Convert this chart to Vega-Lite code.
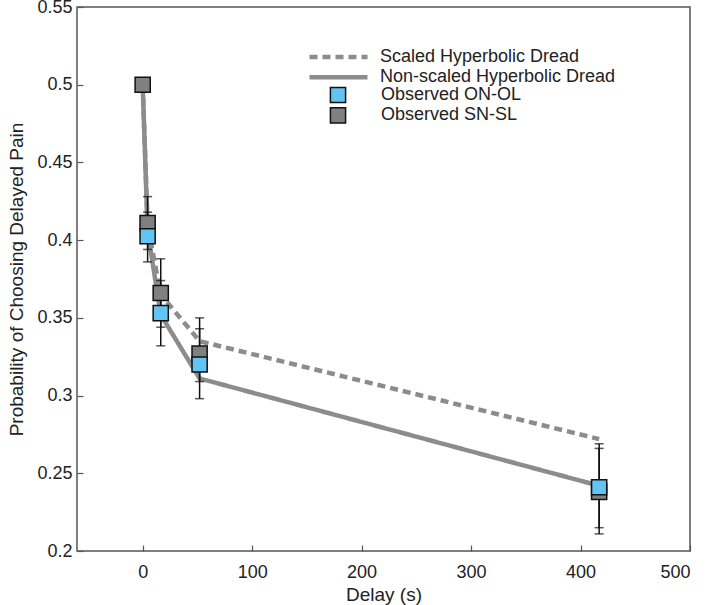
{
  "$schema": "https://vega.github.io/schema/vega-lite/v6.json",
  "width": 613,
  "height": 544,
  "autosize": {"type": "none"},
  "padding": {"left": 77, "top": 7, "right": 19, "bottom": 54},
  "background": "white",
  "config": {
    "view": {"stroke": "#555", "strokeWidth": 1.5},
    "axis": {
      "labelFont": "Liberation Sans", "titleFont": "Liberation Sans",
      "labelFontSize": 18, "titleFontSize": 19, "labelColor": "#222", "titleColor": "#222",
      "titleFontWeight": "normal", "grid": false, "domain": false,
      "tickColor": "#555", "tickWidth": 1.2
    },
    "legend": {
      "labelFont": "Liberation Sans", "labelFontSize": 18, "labelColor": "#222", "labelLimit": 0, "padding": 0
    }
  },
  "datasets": {
    "model": [
      {"delay": 0, "prob": 0.5, "series": "Scaled Hyperbolic Dread"},
      {"delay": 4.5, "prob": 0.41, "series": "Scaled Hyperbolic Dread"},
      {"delay": 16.5, "prob": 0.365, "series": "Scaled Hyperbolic Dread"},
      {"delay": 52, "prob": 0.335, "series": "Scaled Hyperbolic Dread"},
      {"delay": 417, "prob": 0.272, "series": "Scaled Hyperbolic Dread"},
      {"delay": 0, "prob": 0.5, "series": "Non-scaled Hyperbolic Dread"},
      {"delay": 4.5, "prob": 0.406, "series": "Non-scaled Hyperbolic Dread"},
      {"delay": 16.5, "prob": 0.352, "series": "Non-scaled Hyperbolic Dread"},
      {"delay": 52, "prob": 0.311, "series": "Non-scaled Hyperbolic Dread"},
      {"delay": 417, "prob": 0.242, "series": "Non-scaled Hyperbolic Dread"}
    ],
    "obs": [
      {"delay": 0, "prob": 0.5, "lo": null, "hi": null, "series": "Observed SN-SL"},
      {"delay": 4.5, "prob": 0.411, "lo": 0.394, "hi": 0.428, "series": "Observed SN-SL"},
      {"delay": 16.5, "prob": 0.366, "lo": 0.344, "hi": 0.388, "series": "Observed SN-SL"},
      {"delay": 52, "prob": 0.327, "lo": 0.309, "hi": 0.35, "series": "Observed SN-SL"},
      {"delay": 417, "prob": 0.238, "lo": 0.211, "hi": 0.269, "series": "Observed SN-SL"},
      {"delay": 4.5, "prob": 0.4025, "lo": 0.386, "hi": 0.418, "series": "Observed ON-OL"},
      {"delay": 16.5, "prob": 0.353, "lo": 0.332, "hi": 0.374, "series": "Observed ON-OL"},
      {"delay": 52, "prob": 0.32, "lo": 0.298, "hi": 0.343, "series": "Observed ON-OL"},
      {"delay": 417, "prob": 0.241, "lo": 0.215, "hi": 0.266, "series": "Observed ON-OL"}
    ]
  },
  "resolve": {"axis": {"x": "independent", "y": "independent"}},
  "layer": [
    {
      "data": {"name": "model"},
      "mark": {"type": "line", "strokeWidth": 4.5, "strokeCap": "butt", "color": "#8c8c8c"},
      "encoding": {
        "x": {"field": "delay", "type": "quantitative",
          "scale": {"domain": [-60, 500], "nice": false, "zero": false},
          "axis": {"title": "Delay (s)", "values": [0, 100, 200, 300, 400, 500], "ticks": false, "labelPadding": 12, "titlePadding": 4}},
        "y": {"field": "prob", "type": "quantitative",
          "scale": {"domain": [0.2, 0.55], "nice": false, "zero": false},
          "axis": {"title": "Probability of Choosing Delayed Pain", "values": [0.2, 0.25, 0.3, 0.35, 0.4, 0.45, 0.5, 0.55], "format": ".2~f", "ticks": false, "labelPadding": 5, "titlePadding": 10}},
        "strokeDash": {"field": "series", "type": "nominal",
          "scale": {"domain": ["Scaled Hyperbolic Dread", "Non-scaled Hyperbolic Dread"], "range": [[8, 5], [1, 0]]},
          "legend": {
            "orient": "none", "legendX": 230, "legendY": 40, "title": null,
            "symbolType": "stroke", "symbolSize": 3364, "symbolStrokeWidth": 4.5, "symbolStrokeColor": "#8c8c8c",
            "clipHeight": 20, "rowPadding": 0.3, "labelOffset": 10
          }}
      }
    },
    {
      "data": {"name": "obs"},
      "transform": [{"filter": "datum.lo != null"}],
      "mark": {"type": "rule", "color": "#111111", "strokeWidth": 1.5},
      "encoding": {
        "x": {"field": "delay", "type": "quantitative",
          "axis": {"orient": "top", "offset": -544, "values": [0, 100, 200, 300, 400, 500], "labels": false, "title": null, "ticks": true, "tickSize": 6}},
        "y": {"field": "lo", "type": "quantitative",
          "axis": {"orient": "right", "offset": -613, "values": [0.2, 0.25, 0.3, 0.35, 0.4, 0.45, 0.5, 0.55], "labels": false, "title": null, "ticks": true, "tickSize": 6}},
        "y2": {"field": "hi"}
      }
    },
    {
      "data": {"name": "obs"},
      "transform": [{"filter": "datum.lo != null"}],
      "mark": {"type": "tick", "orient": "horizontal", "color": "#111111", "size": 9, "thickness": 1.5},
      "encoding": {
        "x": {"field": "delay", "type": "quantitative", "axis": null},
        "y": {"field": "lo", "type": "quantitative", "axis": null}
      }
    },
    {
      "data": {"name": "obs"},
      "transform": [{"filter": "datum.lo != null"}],
      "mark": {"type": "tick", "orient": "horizontal", "color": "#111111", "size": 9, "thickness": 1.5},
      "encoding": {
        "x": {"field": "delay", "type": "quantitative", "axis": null},
        "y": {"field": "hi", "type": "quantitative", "axis": null}
      }
    },
    {
      "data": {"name": "obs"},
      "mark": {"type": "square", "size": 230, "stroke": "#111111", "strokeWidth": 1.5, "opacity": 1},
      "encoding": {
        "x": {"field": "delay", "type": "quantitative", "axis": null},
        "y": {"field": "prob", "type": "quantitative", "axis": null},
        "fill": {"field": "series", "type": "nominal",
          "scale": {"domain": ["Observed ON-OL", "Observed SN-SL"], "range": ["#62c4f2", "#808080"]},
          "legend": {
            "orient": "none", "legendX": 252, "legendY": 78, "title": null,
            "symbolType": "square", "symbolSize": 230, "symbolStrokeColor": "#111111", "symbolStrokeWidth": 1.5,
            "clipHeight": 20, "rowPadding": 0.3, "labelOffset": 34
          }}
      }
    }
  ]
}
